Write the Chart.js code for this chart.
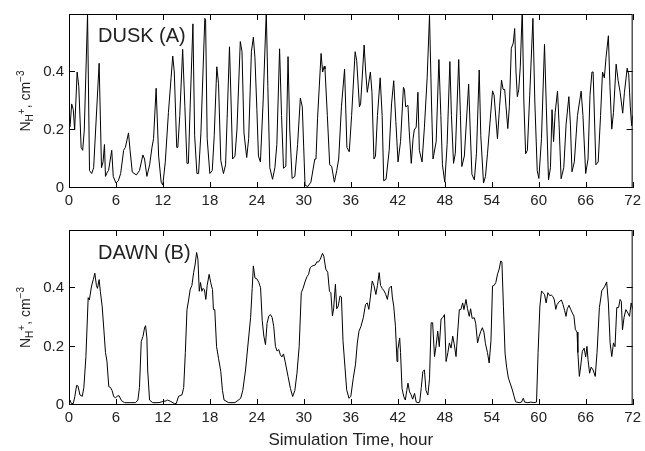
<!DOCTYPE html>
<html>
<head>
<meta charset="utf-8">
<script src="https://cdn.jsdelivr.net/npm/chart.js@4"></script>
<style>
  html, body { margin: 0; padding: 0; background: #fff; }
  .panel { position: absolute; left: 0; }
</style>
</head>
<body>
<canvas id="duskChart" class="panel" width="645" height="215" style="top:0"></canvas>
<canvas id="dawnChart" class="panel" width="645" height="236" style="top:215px"></canvas>
<script>
// hours and densities
const duskHours = [0,0.13,0.34,0.55,0.72,1.04,1.25,1.55,1.75,1.95,2.37,2.62,2.9,3.15,3.4,3.85,4.15,4.35,4.53,4.66,4.9,5.05,5.46,5.65,6,6.3,6.6,6.98,7.2,7.6,7.8,8.08,8.6,9,9.44,9.65,9.95,10.3,10.6,10.8,11.13,11.45,11.77,11.98,12.3,12.7,13.04,13.25,13.45,13.76,13.9,14.15,14.52,14.8,15.07,15.25,15.5,15.83,16.05,16.34,16.55,16.85,17.35,17.45,17.65,17.99,18.3,18.55,18.88,19.1,19.39,19.73,20,20.2,20.5,20.7,20.9,21.2,21.45,21.88,22.1,22.35,22.7,22.95,23.3,23.55,23.75,24,24.2,24.45,24.8,25.2,25.4,25.65,26,26.3,26.55,26.9,27.15,27.4,27.7,27.98,28.2,28.5,28.85,29.2,29.55,29.8,30.15,30.5,30.9,31.4,31.55,31.75,32.2,32.4,32.6,32.7,33,33.3,33.55,33.9,34.2,34.45,34.8,35.2,35.5,35.8,36.1,36.55,36.75,37.1,37.25,37.7,37.9,38.1,38.5,38.7,38.95,39.15,39.4,39.75,40,40.2,40.5,40.9,41.2,41.48,41.75,42.03,42.35,42.72,42.85,43,43.3,43.45,43.72,43.95,44.1,44.35,44.57,44.75,45.1,45.4,45.75,46.05,46.3,46.5,46.9,47.25,47.5,47.7,48,48.3,48.65,48.85,49.12,49.35,49.78,50,50.18,50.5,51.05,51.25,51.47,51.78,52.05,52.4,52.6,52.95,53.2,53.46,53.7,54.1,54.3,54.73,55,55.25,55.45,55.65,56.05,56.25,56.5,56.75,56.93,57.1,57.27,57.45,57.65,57.9,58.1,58.33,58.55,58.85,59.26,59.5,59.81,60.02,60.35,60.74,60.95,61.25,61.5,61.7,61.9,62.1,62.4,62.6,62.86,63.2,63.5,63.85,64.05,64.25,64.55,64.95,65.42,65.65,66,66.3,66.55,66.8,66.95,67.3,67.6,67.9,68.15,68.38,68.6,68.9,69.1,69.33,69.55,69.89,70.15,70.4,70.73,70.95,71.3,71.5,71.7,71.87,72];
const duskValues = [0.21,0.21,0.29,0.27,0.2,0.4,0.35,0.14,0.13,0.2,0.6,0.06,0.05,0.07,0.2,0.43,0.07,0.09,0.15,0.04,0.055,0.06,0.13,0.04,0.017,0.025,0.05,0.13,0.14,0.19,0.13,0.055,0.045,0.06,0.114,0.1,0.04,0.08,0.14,0.17,0.344,0.11,0.02,0.01,0.09,0.26,0.38,0.455,0.4,0.14,0.14,0.25,0.478,0.28,0.085,0.085,0.3,0.566,0.18,0.05,0.05,0.19,0.585,0.58,0.17,0.05,0.06,0.18,0.418,0.36,0.095,0.05,0.08,0.24,0.487,0.3,0.1,0.11,0.2,0.505,0.47,0.19,0.105,0.17,0.47,0.52,0.45,0.27,0.11,0.09,0.3,0.61,0.35,0.07,0.03,0.07,0.15,0.48,0.25,0.068,0.075,0.453,0.2,0.033,0.04,0.15,0.31,0.28,0.01,0.005,0.02,0.1,0.1,0.24,0.464,0.4,0.42,0.41,0.25,0.08,0.075,0.02,0.06,0.1,0.28,0.41,0.14,0.125,0.25,0.47,0.44,0.28,0.29,0.493,0.4,0.33,0.4,0.33,0.1,0.11,0.25,0.38,0.25,0.025,0.03,0.13,0.29,0.37,0.23,0.09,0.16,0.347,0.34,0.28,0.285,0.2,0.085,0.17,0.2,0.21,0.33,0.13,0.09,0.21,0.38,0.595,0.3,0.1,0.16,0.443,0.25,0.08,0.02,0.15,0.436,0.25,0.085,0.12,0.443,0.25,0.074,0.11,0.358,0.2,0.047,0.028,0.12,0.407,0.18,0.017,0.04,0.12,0.2,0.335,0.32,0.17,0.28,0.372,0.34,0.34,0.205,0.28,0.482,0.5,0.55,0.4,0.315,0.34,0.42,0.62,0.3,0.118,0.13,0.32,0.585,0.3,0.06,0.033,0.17,0.495,0.3,0.028,0.07,0.27,0.16,0.26,0.334,0.22,0.032,0.07,0.22,0.315,0.22,0.056,0.09,0.25,0.334,0.25,0.05,0.1,0.32,0.4,0.4,0.08,0.09,0.25,0.4,0.38,0.45,0.525,0.35,0.203,0.26,0.427,0.37,0.33,0.258,0.33,0.413,0.39,0.28,0.215,0.25];

const dawnHours = [0,0.13,0.3,0.55,0.75,0.97,1.15,1.4,1.7,1.9,2.16,2.45,2.6,2.88,3.1,3.3,3.5,3.64,3.85,4,4.23,4.45,4.66,4.85,5.08,5.3,5.5,5.71,5.95,6.15,6.39,6.7,7.11,7.8,8.5,8.8,9,9.23,9.45,9.65,9.78,9.95,10.05,10.29,10.7,11.5,11.98,12.4,12.6,13,13.46,13.7,14,14.44,14.65,14.86,15.07,15.28,15.49,15.7,15.92,16.1,16.3,16.47,16.64,16.8,16.97,17.14,17.3,17.48,17.65,17.9,18.1,18.33,18.45,18.62,18.85,19.1,19.39,19.6,19.81,20.4,21.2,21.93,22.2,22.55,22.98,23.2,23.4,23.55,23.75,24.04,24.25,24.47,24.68,24.89,25.1,25.3,25.52,25.73,25.95,26.15,26.37,26.58,26.8,27,27.2,27.4,27.6,27.98,28.28,28.57,28.85,29.12,29.4,29.67,29.9,30.18,30.4,30.6,30.8,31.02,31.45,31.66,31.85,32.1,32.38,32.55,32.8,33.05,33.27,33.45,33.65,33.8,34.03,34.2,34.4,34.62,34.8,35,35.25,35.47,35.77,36,36.3,36.6,36.83,37.04,37.3,37.6,37.88,38.1,38.3,38.5,38.73,38.95,39.2,39.4,39.62,39.8,40,40.25,40.45,40.67,40.9,41.18,41.3,41.48,41.7,41.9,42,42.24,42.35,42.54,42.75,42.96,43.15,43.3,43.5,43.7,43.9,44.14,44.35,44.57,44.8,45,45.2,45.4,45.6,45.84,46.05,46.26,46.45,46.69,46.9,47.1,47.3,47.53,47.75,47.96,48.17,48.4,48.59,48.8,49.02,49.2,49.44,49.65,49.86,50.05,50.29,50.45,50.71,50.9,51.13,51.3,51.5,51.77,51.95,52.19,52.4,52.61,52.8,53,53.2,53.45,53.67,53.9,54.1,54.3,54.52,54.75,54.95,55.15,55.3,55.49,55.7,55.9,56.13,56.35,56.63,56.85,57.05,57.5,57.8,58.03,58.2,58.6,59,59.38,59.72,59.92,60.15,60.36,60.55,60.74,60.95,61.17,61.4,61.6,61.84,62,62.18,62.35,62.69,62.9,63.1,63.3,63.49,63.65,63.87,64.1,64.3,64.5,64.68,64.9,65,65.19,65.35,65.57,65.8,66,66.16,66.3,66.5,66.7,66.95,67.22,67.45,67.75,67.95,68.04,68.4,68.68,68.9,69.12,69.33,69.55,69.75,69.97,70.2,70.4,70.55,70.7,70.9,71.13,71.4,71.6,71.81,72];
const dawnValues = [0.02,0.017,0.005,0.005,0.03,0.067,0.065,0.034,0.03,0.06,0.166,0.368,0.36,0.408,0.43,0.452,0.41,0.4,0.43,0.39,0.34,0.26,0.18,0.15,0.063,0.06,0.05,0.029,0.025,0.03,0.032,0.015,0.008,0.008,0.008,0.017,0.06,0.218,0.235,0.264,0.272,0.23,0.12,0.017,0.008,0.008,0.012,0.014,0.017,0.012,0.005,0.005,0.03,0.035,0.06,0.18,0.327,0.36,0.397,0.41,0.454,0.48,0.523,0.5,0.39,0.42,0.39,0.4,0.395,0.362,0.41,0.448,0.42,0.396,0.327,0.327,0.2,0.16,0.115,0.05,0.017,0.008,0.008,0.023,0.05,0.12,0.24,0.3,0.4,0.477,0.436,0.431,0.42,0.402,0.29,0.236,0.207,0.28,0.305,0.31,0.3,0.27,0.201,0.185,0.19,0.172,0.165,0.175,0.15,0.098,0.057,0.029,0.05,0.109,0.2,0.385,0.4,0.425,0.44,0.448,0.47,0.476,0.48,0.491,0.49,0.5,0.52,0.51,0.466,0.455,0.39,0.385,0.305,0.33,0.414,0.33,0.34,0.374,0.37,0.22,0.13,0.052,0.023,0.03,0.09,0.14,0.213,0.253,0.27,0.3,0.345,0.35,0.328,0.37,0.425,0.41,0.379,0.41,0.454,0.41,0.4,0.391,0.38,0.362,0.4,0.408,0.37,0.339,0.27,0.149,0.19,0.23,0.18,0.057,0.03,0.017,0.05,0.075,0.045,0.035,0.02,0.04,0.01,0.008,0.01,0.06,0.115,0.12,0.05,0.034,0.09,0.282,0.282,0.166,0.205,0.253,0.2,0.295,0.3,0.31,0.149,0.18,0.213,0.195,0.236,0.21,0.166,0.25,0.327,0.327,0.35,0.327,0.362,0.33,0.304,0.33,0.297,0.299,0.28,0.213,0.236,0.253,0.265,0.25,0.21,0.18,0.144,0.22,0.408,0.41,0.42,0.45,0.466,0.494,0.49,0.339,0.178,0.13,0.092,0.075,0.052,0.03,0.011,0.008,0.01,0.023,0.01,0.008,0.01,0.008,0.01,0.18,0.339,0.391,0.385,0.379,0.35,0.385,0.375,0.377,0.371,0.36,0.328,0.345,0.356,0.36,0.345,0.325,0.304,0.33,0.342,0.327,0.315,0.305,0.259,0.25,0.18,0.098,0.13,0.184,0.195,0.165,0.201,0.155,0.109,0.13,0.12,0.098,0.18,0.334,0.37,0.391,0.405,0.422,0.35,0.213,0.166,0.213,0.2,0.334,0.334,0.362,0.355,0.258,0.3,0.327,0.315,0.304,0.35,0.33];

const xTicks = [0, 6, 12, 18, 24, 30, 36, 42, 48, 54, 60, 66, 72];
const yTicks = [0, 0.2, 0.4];

const fontFamily = '"Liberation Sans", Arial, Helvetica, sans-serif';
const textColor = '#222';

// box round the plot area, with small ticks pointing inward on all sides
const frameTicks = {
  id: 'frameTicks',
  afterDraw(chart) {
    const { ctx, chartArea: a, scales: { x, y } } = chart;
    ctx.save();
    ctx.strokeStyle = '#000';
    ctx.lineWidth = 1;
    ctx.strokeRect(a.left + 0.5, a.top + 0.5, a.width - 1, a.height - 1);
    ctx.beginPath();
    xTicks.forEach(t => {
      const px = Math.round(x.getPixelForValue(t)) + 0.5;
      ctx.moveTo(px, a.bottom); ctx.lineTo(px, a.bottom - 6);
      ctx.moveTo(px, a.top); ctx.lineTo(px, a.top + 6);
    });
    yTicks.forEach(t => {
      const py = Math.round(y.getPixelForValue(t)) - 0.5;
      ctx.moveTo(a.left, py); ctx.lineTo(a.left + 6, py);
      ctx.moveTo(a.right, py); ctx.lineTo(a.right - 6, py);
    });
    ctx.stroke();
    ctx.restore();
  }
};

// panel name and the rotated y label with sub/superscripts
const panelText = {
  id: 'panelText',
  afterDraw(chart, args, opts) {
    const { ctx, chartArea: a } = chart;
    ctx.save();
    ctx.fillStyle = textColor;
    ctx.textBaseline = 'alphabetic';
    ctx.font = '20px ' + fontFamily;
    ctx.fillText(opts.name, opts.nameX, opts.nameY);

    const parts = [
      { t: 'N', size: 14, dy: 0 },
      { t: 'H', size: 10, dy: 3 },
      { t: '+', size: 10, dy: -5 },
      { t: ', cm', size: 14, dy: 0 },
      { t: '\u22123', size: 10, dy: -6 }
    ];
    let total = 0;
    parts.forEach(p => { ctx.font = p.size + 'px ' + fontFamily; p.w = ctx.measureText(p.t).width; total += p.w; });
    ctx.translate(30, (a.top + a.bottom) / 2);
    ctx.rotate(-Math.PI / 2);
    let cx = -total / 2;
    parts.forEach(p => {
      ctx.font = p.size + 'px ' + fontFamily;
      ctx.fillText(p.t, cx, p.dy);
      cx += p.w;
    });
    ctx.restore();
  }
};

function makeChart(id, hours, values, opts) {
  const ctx = document.getElementById(id).getContext('2d');
  return new Chart(ctx, {
    type: 'line',
    data: {
      datasets: [{
        data: hours.map((h, i) => ({ x: h, y: values[i] })),
        borderColor: '#000',
        borderWidth: 1,
        pointRadius: 0,
        tension: 0,
        fill: false
      }]
    },
    options: {
      responsive: false,
      animation: false,
      layout: { padding: { left: 0, right: 9, top: opts.top, bottom: 0 } },
      plugins: {
        legend: { display: false },
        tooltip: { enabled: false },
        panelText: { name: opts.name, nameX: 98, nameY: opts.nameY }
      },
      scales: {
        x: {
          type: 'linear',
          min: 0,
          max: 72,
          afterBuildTicks: s => { s.ticks = xTicks.map(v => ({ value: v })); },
          afterFit: s => { s.height = opts.xHeight; },
          grid: { display: false, drawTicks: false },
          border: { display: false },
          ticks: { padding: 4, maxRotation: 0, color: textColor, font: { size: 15, family: fontFamily } },
          title: {
            display: !!opts.xTitle,
            text: opts.xTitle || '',
            color: textColor,
            padding: { top: 0, bottom: 0 },
            font: { size: 17, family: fontFamily }
          }
        },
        y: {
          min: 0,
          max: 0.6,
          afterBuildTicks: s => { s.ticks = yTicks.map(v => ({ value: v })); },
          afterFit: s => { s.width = 69; },
          grid: { display: false, drawTicks: false },
          border: { display: false },
          ticks: { padding: 5, color: textColor, font: { size: 15, family: fontFamily } }
        }
      }
    },
    plugins: [frameTicks, panelText]
  });
}

makeChart('duskChart', duskHours, duskValues, { top: 13, xHeight: 27, name: 'DUSK (A)', nameY: 42 });
makeChart('dawnChart', dawnHours, dawnValues, { top: 15, xHeight: 46, name: 'DAWN (B)', nameY: 44, xTitle: 'Simulation Time, hour' });
</script>
</body>
</html>
